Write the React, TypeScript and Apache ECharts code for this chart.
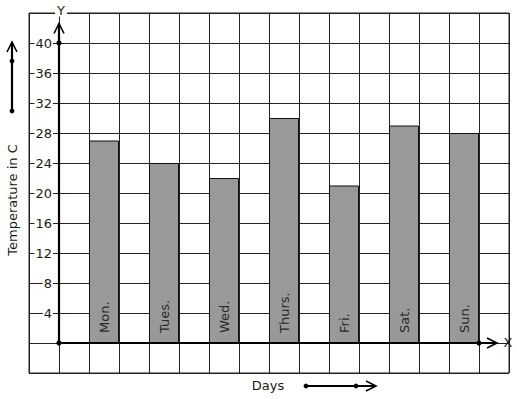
import React, { useEffect, useRef } from "react";
import * as echarts from "echarts";

const days = ["Mon.", "Tues.", "Wed.", "Thurs.", "Fri.", "Sat.", "Sun."];
const temps = [27, 24, 22, 30, 21, 29, 28];
const yTickLabels = [4, 8, 12, 16, 20, 24, 28, 32, 36, 40];

const FONT = "DejaVu Sans";
const INK = "#1a1a1a";

export default function App() {
  const ref = useRef<HTMLDivElement>(null);
  useEffect(() => {
    if (!ref.current) return;
    const chart = echarts.init(ref.current, null, { renderer: "svg" });
    const arrowLen = 10;
    const arrowHalf = 5;
    chart.setOption({
      animation: false,
      backgroundColor: "#fff",
      textStyle: { fontFamily: FONT },
      grid: {
        left: 29,
        top: 13,
        width: 480,
        height: 360,
        show: true,
        borderColor: "#222",
        borderWidth: 1,
        containLabel: false,
      },
      xAxis: {
        type: "value",
        min: -1,
        max: 15,
        interval: 1,
        axisLine: { show: false },
        axisTick: { show: false },
        axisLabel: { show: false },
        splitLine: { show: true, lineStyle: { color: "#222", width: 1 } },
      },
      yAxis: {
        type: "value",
        min: -4,
        max: 44,
        interval: 4,
        offset: -30,
        axisLine: { show: false },
        axisTick: { show: false },
        axisLabel: {
          show: true,
          customValues: yTickLabels,
          color: INK,
          fontSize: 13,
          fontFamily: FONT,
          margin: 6,
          backgroundColor: "#fff",
          padding: [0, 1],
        },
        splitLine: { show: true, lineStyle: { color: "#222", width: 1 } },
      },
      series: [
        {
          type: "bar",
          data: temps.map((v, i) => [2 * i + 1.5, v]),
          barWidth: 30,
          itemStyle: { color: "#999999", borderColor: "#111", borderWidth: 1 },
          label: {
            show: true,
            position: "insideBottom",
            rotate: 90,
            align: "left",
            verticalAlign: "middle",
            distance: 10,
            fontSize: 13,
            fontFamily: FONT,
            color: "#2a2a2a",
            formatter: (p: any) => days[p.dataIndex],
          },
          z: 2,
        },
        {
          type: "custom",
          data: [[0, 0]],
          clip: false,
          z: 5,
          silent: true,
          renderItem: (params: any, api: any) => {
            const o = api.coord([0, 0]);
            const yTop = api.coord([0, 42.6]);
            const y40 = api.coord([0, 40]);
            const xEnd = api.coord([14.6, 0]);
            const x14 = api.coord([14, 0]);
            const ls = { stroke: "#000", lineWidth: 2.2, fill: "none" };
            return {
              type: "group",
              children: [
                { type: "line", shape: { x1: o[0], y1: o[1], x2: yTop[0], y2: yTop[1] }, style: ls },
                {
                  type: "polyline",
                  shape: {
                    points: [
                      [yTop[0] - arrowHalf, yTop[1] + arrowLen],
                      [yTop[0], yTop[1]],
                      [yTop[0] + arrowHalf, yTop[1] + arrowLen],
                    ],
                  },
                  style: { stroke: "#000", lineWidth: 1.6, fill: "none" },
                },
                { type: "line", shape: { x1: o[0], y1: o[1], x2: xEnd[0], y2: xEnd[1] }, style: ls },
                {
                  type: "polyline",
                  shape: {
                    points: [
                      [xEnd[0] - arrowLen, xEnd[1] - arrowHalf],
                      [xEnd[0], xEnd[1]],
                      [xEnd[0] - arrowLen, xEnd[1] + arrowHalf],
                    ],
                  },
                  style: { stroke: "#000", lineWidth: 1.6, fill: "none" },
                },
                { type: "circle", shape: { cx: o[0], cy: o[1], r: 2.6 }, style: { fill: "#000" } },
                { type: "circle", shape: { cx: y40[0], cy: y40[1], r: 2.6 }, style: { fill: "#000" } },
                { type: "circle", shape: { cx: x14[0], cy: x14[1], r: 2.6 }, style: { fill: "#000" } },
              ],
            };
          },
        },
      ],
      graphic: [
        {
          type: "text",
          x: 61,
          y: 10,
          z: 10,
          style: {
            text: "Y",
            font: `13px "${FONT}"`,
            fill: INK,
            align: "center",
            verticalAlign: "middle",
            backgroundColor: "#fff",
            padding: [0, 2],
          },
        },
        {
          type: "text",
          x: 508,
          y: 342,
          z: 10,
          style: {
            text: "X",
            font: `13px "${FONT}"`,
            fill: INK,
            align: "center",
            verticalAlign: "middle",
          },
        },
        {
          type: "text",
          x: 12,
          y: 200,
          rotation: Math.PI / 2,
          style: {
            text: "Temperature in C",
            font: `13px "${FONT}"`,
            fill: INK,
            align: "center",
            verticalAlign: "middle",
          },
        },
        {
          type: "text",
          x: 268,
          y: 385,
          style: {
            text: "Days",
            font: `13px "${FONT}"`,
            fill: INK,
            align: "center",
            verticalAlign: "middle",
          },
        },
        // left decorative arrow
        { type: "line", shape: { x1: 12, y1: 111, x2: 12, y2: 42 }, style: { stroke: "#000", lineWidth: 2.2 } },
        {
          type: "polyline",
          shape: { points: [[7, 52], [12, 42], [17, 52]] },
          style: { stroke: "#000", lineWidth: 1.6, fill: "none" },
        },
        { type: "circle", shape: { cx: 12, cy: 61, r: 2.4 }, style: { fill: "#000" } },
        { type: "circle", shape: { cx: 12, cy: 111, r: 2.4 }, style: { fill: "#000" } },
        // days arrow
        { type: "line", shape: { x1: 306, y1: 386, x2: 376, y2: 386 }, style: { stroke: "#000", lineWidth: 2 } },
        {
          type: "polyline",
          shape: { points: [[366, 381], [376, 386], [366, 391]] },
          style: { stroke: "#000", lineWidth: 1.6, fill: "none" },
        },
        { type: "circle", shape: { cx: 306, cy: 386, r: 2.4 }, style: { fill: "#000" } },
        { type: "circle", shape: { cx: 356, cy: 386, r: 2.4 }, style: { fill: "#000" } },
      ],
    });
    return () => chart.dispose();
  }, []);
  return <div ref={ref} style={{ width: 517, height: 399, position: "absolute", left: 0, top: 0 }} />;
}
